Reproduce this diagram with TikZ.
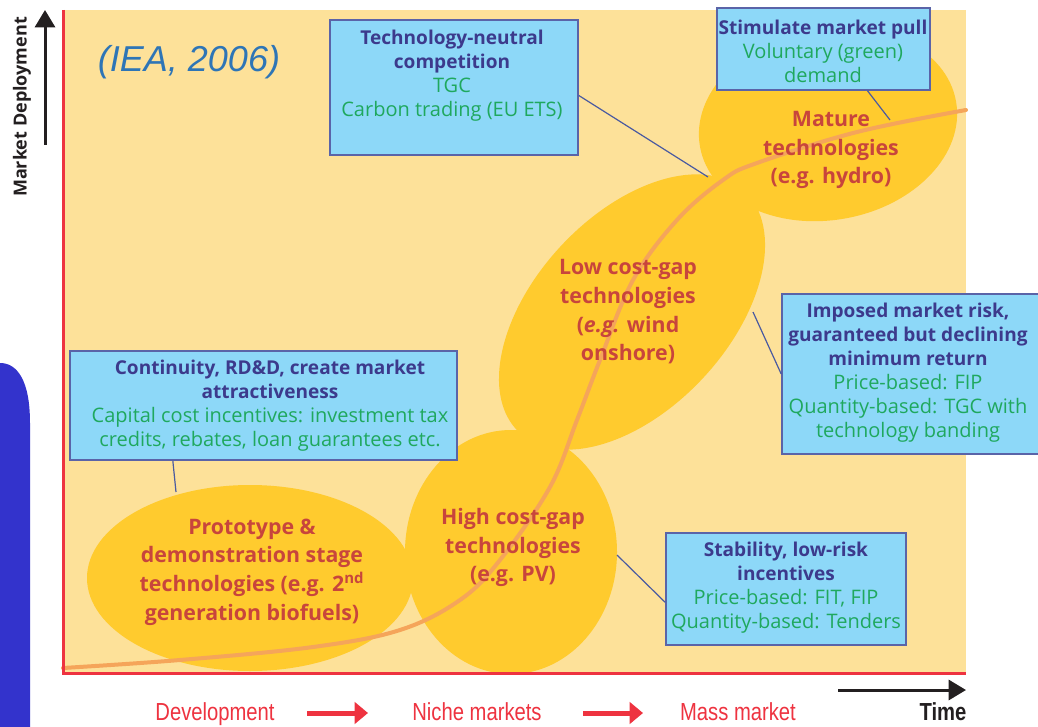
\documentclass[tikz,border=0pt]{standalone}
\usepackage{fontspec}
\setmainfont{Open Sans}
\newfontfamily\ieafont{Liberation Sans}
\newfontfamily\condfont[FakeStretch=0.82]{Liberation Sans}
\usetikzlibrary{arrows.meta,calc}
\definecolor{panel}{HTML}{FDE199}
\definecolor{ellc}{HTML}{FFCB2E}
\definecolor{curvec}{HTML}{F5A55A}
\definecolor{boxfill}{HTML}{8DD8F8}
\definecolor{boxline}{HTML}{5A64A8}
\definecolor{ttl}{HTML}{3C3A8C}
\definecolor{grn}{HTML}{1FA85E}
\definecolor{etxt}{HTML}{C8453C}
\definecolor{axred}{HTML}{EE3340}
\definecolor{leftblue}{HTML}{3333CC}
\definecolor{ieablue}{HTML}{2E75B6}
\definecolor{connc}{HTML}{4A5AA0}
\definecolor{axblack}{HTML}{231F20}
\newcommand\ttlx[1]{\textcolor{ttl}{\bfseries\fontsize{14.3}{18}\selectfont #1}}
\newcommand\grnx[1]{\textcolor{grn}{#1}}
\tikzset{
  boxstyle/.style={draw=boxline, fill=boxfill, line width=1.2pt, inner sep=0pt},
  boxtxt/.style={align=center, inner sep=0pt, font=\fontsize{15}{18}\selectfont},
  elltxt/.style={align=center, inner sep=0pt, text=etxt, font=\bfseries\fontsize{16}{21.5}\selectfont},
  conn/.style={draw=connc, line width=0.9pt},
  curvestyle/.style={draw=curvec, line width=3pt, line cap=round},
  redarrow/.style={draw=axred, line width=3.75pt, -{Triangle[width=16pt,length=10pt]}},
  blackarrow/.style={draw=axblack, line width=2.25pt, -{Triangle[width=15pt,length=13pt]}},
  bottomlbl/.style={text=axred, anchor=base, inner sep=0pt, font=\condfont\fontsize{18.5}{21}\selectfont},
}
\begin{document}
\begin{tikzpicture}[x=0.75pt,y=-0.75pt]
\clip (0,0) rectangle (1038,727);
\fill[white] (0,0) rectangle (1038,727);
% left blue band
\fill[leftblue] (0,363) .. controls (17,363) and (30,380) .. (30,423) -- (30,727) -- (0,727) -- cycle;
% panel
\fill[panel] (63,10) rectangle (966,673);
% ellipses
\fill[ellc] (250,578) ellipse [x radius=163, y radius=93];
\fill[ellc] (511,552) ellipse [x radius=106, y radius=122];
\fill[ellc, rotate around={47:(632,312)}] (632,312) ellipse [x radius=165, y radius=97];
\fill[ellc, rotate around={10:(828,124)}] (828,124) ellipse [x radius=130, y radius=96];
% S-curve
\draw[curvestyle] plot[smooth, tension=0.6] coordinates {(63,668) (180,660) (313,647) (400,630) (460,600) (500,560) (550,487) (577,420) (600,360) (633,280) (677,220) (723,180) (757,163) (857,132) (966,110)};
% axes
\draw[axred, line width=2.25pt] (63,10) -- (63,673) -- (966,673);
% boxes
\node[boxstyle, minimum width=186pt, minimum height=101.25pt] (tgc) at (454,87.5) {};
\node[boxstyle, minimum width=159.75pt, minimum height=61.5pt] (stim) at (823.5,49) {};
\node[boxstyle, minimum width=290.25pt, minimum height=81.75pt] (cont) at (263.5,405.5) {};
\node[boxstyle, minimum width=197.25pt, minimum height=120pt] (imp) at (913.5,374) {};
\node[boxstyle, minimum width=180pt, minimum height=84pt] (stab) at (786,589) {};
% connector ends
\coordinate (tgcend) at (708,177);
\coordinate (stimend) at (890,120);
\coordinate (contend) at (176,492);
\coordinate (impend) at (753,312);
\coordinate (stabend) at (617,555);
\draw[conn] ([yshift=-6pt]tgc.east) -- (tgcend);
\draw[conn] ([xshift=33pt]stim.south) -- (stimend);
\draw[conn] ([xshift=-68pt]cont.south) -- (contend);
\draw[conn] (imp.west) -- (impend);
\draw[conn] ([yshift=-10pt]stab.west) -- (stabend);
% box texts
\node[boxtxt] (tgct) at (452,76) {\ttlx{Technology-neutral}\\ \ttlx{competition}\\ \grnx{TGC}\\ \grnx{Carbon trading (EU ETS)}};
\node[boxtxt] (stimt) at (823,51) {\ttlx{Stimulate market pull}\\ \grnx{Voluntary (green)}\\ \grnx{demand}};
\node[boxtxt] (contt) at (270,405.5) {\ttlx{Continuity, RD\&D, create market}\\ \ttlx{attractiveness}\\ \grnx{Capital cost incentives: investment tax}\\ \grnx{credits, rebates, loan guarantees etc.}};
\node[boxtxt] (impt) at (908,372.5) {\ttlx{Imposed market risk,}\\ \ttlx{guaranteed but declining}\\ \ttlx{minimum return}\\ \grnx{Price-based: FIP}\\ \grnx{Quantity-based: TGC with}\\ \grnx{technology banding}};
\node[boxtxt] (stabt) at (786,587.5) {\ttlx{Stability, low-risk}\\ \ttlx{incentives}\\ \grnx{Price-based: FIT, FIP}\\ \grnx{Quantity-based: Tenders}};
% ellipse texts
\node[elltxt] (protot) at (252,572) {Prototype \&\\ demonstration stage\\ technologies (e.g. 2\textsuperscript{nd}\\ generation biofuels)};
\node[elltxt] (hight) at (513,547.5) {High cost-gap\\ technologies\\ (e.g. PV)};
\node[elltxt] (lowt) at (628,312) {Low cost-gap\\ technologies\\ (\textit{e.g.} wind\\ onshore)};
\node[elltxt] (matt) at (831,150) {Mature\\ technologies\\ (e.g. hydro)};
% IEA label
\node[text=ieablue, inner sep=0pt, font=\ieafont\itshape\fontsize{27}{30}\selectfont] (iea) at (189,62) {(IEA, 2006)};
% vertical axis arrow and label
\coordinate (vbot) at (45,145);
\coordinate (vtop) at (45,10);
\draw[blackarrow] (vbot) -- (vtop);
\node[rotate=90, inner sep=0pt, text=axblack, font=\bfseries\fontsize{13.5}{16}\selectfont] (mdl) at (22,107) {Market Deployment};
% time arrow
\coordinate (tl) at (838,690);
\coordinate (tr) at (966,690);
\draw[blackarrow] (tl) -- (tr);
\node[bottomlbl, text=axblack, font=\condfont\bfseries\fontsize{18.5}{21}\selectfont] (time) at (943,720) {Time};
% bottom phase labels
\node[bottomlbl] (dev) at (215,720) {Development};
\node[bottomlbl] (niche) at (477,720) {Niche markets};
\node[bottomlbl] (mass) at (738,720) {Mass market};
\coordinate (a1s) at (307,713);
\coordinate (a1e) at (368,713);
\coordinate (a2s) at (583,713);
\coordinate (a2e) at (643,713);
\draw[redarrow] (a1s) -- (a1e);
\draw[redarrow] (a2s) -- (a2e);
\end{tikzpicture}
\end{document}
